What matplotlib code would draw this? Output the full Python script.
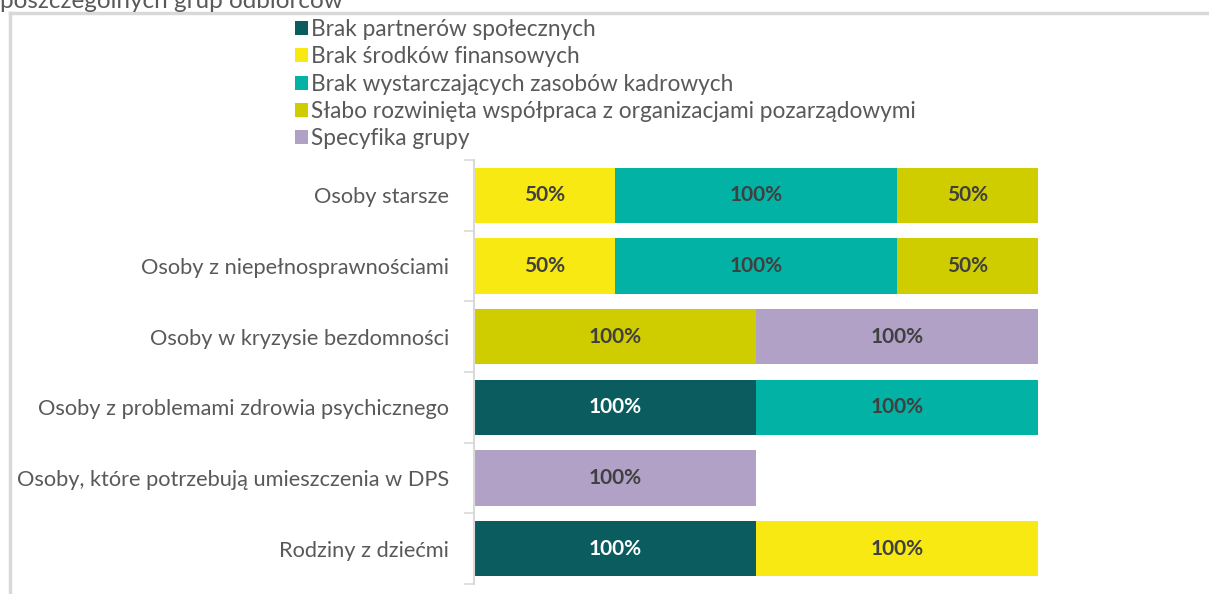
import matplotlib
matplotlib.use('Agg')
import matplotlib.pyplot as plt
import numpy as np
from matplotlib.lines import Line2D

plt.rcParams['font.family'] = ['Lato', 'DejaVu Sans']

groups = ['Osoby starsze',
          'Osoby z niepełnosprawnościami',
          'Osoby w kryzysie bezdomności',
          'Osoby z problemami zdrowia psychicznego',
          'Osoby, które potrzebują umieszczenia w DPS',
          'Rodziny z dziećmi']

series = ['Brak partnerów społecznych',
          'Brak środków finansowych',
          'Brak wystarczających zasobów kadrowych',
          'Słabo rozwinięta współpraca z organizacjami pozarządowymi',
          'Specyfika grupy']

partnerzy = [0, 0, 0, 100, 0, 100]
finanse = [50, 50, 0, 0, 0, 100]
kadry = [100, 100, 0, 100, 0, 0]
ngo = [50, 50, 100, 0, 0, 0]
specyfika = [0, 0, 100, 0, 100, 0]

colors = ['#0a5c5e', '#f7e911', '#02b2a5', '#cfcd00', '#b2a1c7']
text_colors = ['white', '#404040', '#404040', '#404040', '#404040']

fig = plt.figure(figsize=(12.09, 5.94), dpi=100)
ax = fig.add_axes([474 / 1209, 1 - 584 / 594, (1038 - 474) / 1209, 424 / 594])

y = np.arange(len(groups))
left = np.zeros(len(groups))
for name, vals, col, tcol in zip(series, [partnerzy, finanse, kadry, ngo, specyfika],
                                 colors, text_colors):
    vals = np.array(vals, dtype=float)
    ax.barh(y, vals, left=left, height=0.78, color=col, label=name)
    for yi, (l, v) in enumerate(zip(left, vals)):
        if v > 0:
            ax.text(l + v / 2, yi, f'{v:.0f}%', ha='center', va='center',
                    fontsize=15, fontweight='bold', color=tcol)
    left += vals

ax.set_xlim(0, 200)
ax.set_ylim(len(groups) - 0.5, -0.5)
ax.set_xticks([])
ax.set_yticks(y)
ax.set_yticklabels(groups, fontsize=15.7, color='#595959')
ax.set_yticks(np.arange(len(groups) + 1) - 0.5, minor=True)
ax.tick_params(axis='y', which='major', length=0, pad=18)
ax.tick_params(axis='y', which='minor', length=7, width=1.2, color='#d9d9d9')
for side in ['top', 'right', 'bottom']:
    ax.spines[side].set_visible(False)
ax.spines['left'].set_color('#d9d9d9')
ax.spines['left'].set_linewidth(1.5)

fig.legend(loc='upper left', bbox_to_anchor=(295 / 1209, 1 - 19 / 594),
           frameon=False, fontsize=16.3, handlelength=0.58, handleheight=0.58,
           handletextpad=0.12, labelspacing=0.28, borderpad=0, borderaxespad=0,
           labelcolor='#595959')

# chart area border (left and top edges)
fig.add_artist(Line2D([10 / 1209, 10 / 1209], [0, 1 - 13 / 594], transform=fig.transFigure,
                      color='#d9d9d9', lw=2.5))
fig.add_artist(Line2D([10 / 1209, 1], [1 - 13 / 594, 1 - 13 / 594], transform=fig.transFigure,
                      color='#d9d9d9', lw=2.5))

fig.text(0, 1 - 8 / 594, 'poszczególnych grup odbiorców', fontsize=17.5,
         color='#595959', ha='left', va='baseline')

fig.savefig('out.png', dpi=100)
